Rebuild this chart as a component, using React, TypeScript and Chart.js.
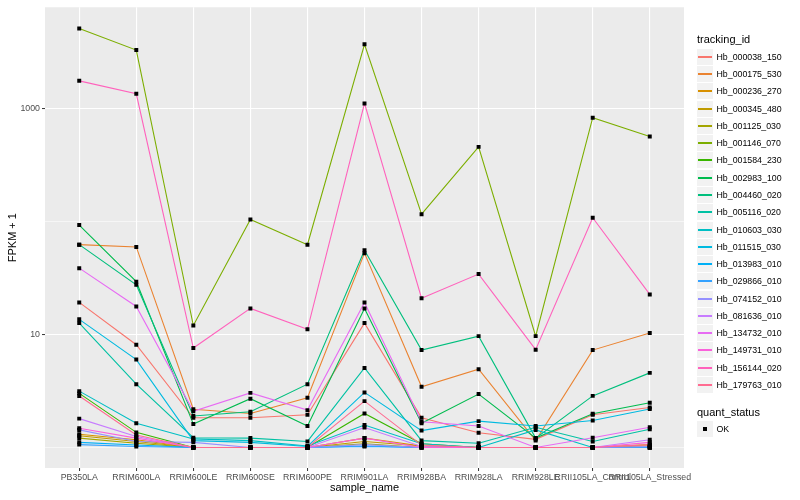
import React, { useEffect, useRef } from "react";
import { Chart, registerables } from "chart.js";

Chart.register(...registerables);

const categories = [
  "PB350LA", "RRIM600LA", "RRIM600LE", "RRIM600SE", "RRIM600PE", "RRIM901LA",
  "RRIM928BA", "RRIM928LA", "RRIM928LE", "RRII105LA_Control", "RRII105LA_Stressed",
];

const seriesNames = [
  "Hb_000038_150", "Hb_000175_530", "Hb_000236_270", "Hb_000345_480", "Hb_001125_030",
  "Hb_001146_070", "Hb_001584_230", "Hb_002983_100", "Hb_004460_020", "Hb_005116_020",
  "Hb_010603_030", "Hb_011515_030", "Hb_013983_010", "Hb_029866_010", "Hb_074152_010",
  "Hb_081636_010", "Hb_134732_010", "Hb_149731_010", "Hb_156144_020", "Hb_179763_010",
];

const seriesColors = [
  "#F8766D", "#EA8331", "#D89000", "#C09B00", "#A3A500", "#7CAE00", "#39B600", "#00BB4E",
  "#00BF7D", "#00C1A3", "#00BFC4", "#00BAE0", "#00B0F6", "#35A2FF", "#9590FF", "#C77CFF",
  "#E76BF3", "#FA62DB", "#FF62BC", "#FF6C91",
];

// FPKM + 1 per sample, in category order
const hb000038 = [19.2, 8.11, 1.83, 1.83, 1.95, 12.6, 1.83, 1.35, 1.18, 1.95, 2.26];
const hb000175 = [62.3, 59.5, 2.18, 2.0, 2.75, 52.4, 3.44, 4.92, 1.15, 7.27, 10.3];
const hb000236 = [1.31, 1.17, 1, 1, 1, 1.21, 1.03, 1, 1, 1, 1.03];
const hb000345 = [1.27, 1.13, 1, 1, 1, 1.13, 1.03, 1, 1, 1, 1.06];
const hb001125 = [1.21, 1.09, 1, 1, 1, 1.08, 1, 1, 1, 1, 1];
const hb001146 = [5094, 3284, 12.0, 104.2, 62.3, 3690, 116, 457, 9.66, 828, 564];
const hb001584 = [3.01, 1.36, 1, 1, 1, 2.0, 1.08, 1, 1, 1, 1];
const hb002983 = [92.9, 29.3, 1.61, 2.7, 1.55, 17.0, 1.64, 2.97, 1.21, 1.99, 2.49];
const hb004460 = [62.3, 27.5, 1.9, 2.07, 3.63, 55.6, 7.27, 9.66, 1.21, 2.86, 4.57];
const hb005116 = [12.6, 3.63, 1.22, 1.21, 1.13, 5.05, 1.15, 1.09, 1.51, 1.13, 1.45];
const hb010603 = [3.15, 1.64, 1.19, 1.15, 1.03, 1.58, 1.08, 1, 1.43, 1, 1];
const hb011515 = [13.6, 5.99, 1.15, 1.11, 1.02, 3.07, 1.41, 1.71, 1.55, 1.73, 2.19];
const hb013983 = [1.11, 1.05, 1, 1, 1, 1.03, 1, 1, 1, 1, 1];
const hb029866 = [1.06, 1.02, 1, 1, 1, 1.02, 1, 1, 1, 1, 1];
const hb074152 = [1.43, 1.13, 1.11, 1, 1, 1.06, 1, 1, 1, 1, 1.02];
const hb081636 = [1.8, 1.25, 1, 1, 1, 1.5, 1.02, 1, 1, 1, 1.17];
const hb134732 = [38.6, 17.7, 2.09, 3.04, 2.14, 19.2, 1.69, 1.55, 1, 1.22, 1.51];
const hb149731 = [1.48, 1.21, 1, 1, 1, 1.21, 1, 1, 1, 1, 1.11];
const hb156144 = [1754, 1347, 7.58, 17.0, 11.1, 1107, 20.9, 34.2, 7.33, 107.7, 22.6];
const hb179763 = [2.85, 1.29, 1, 1, 1, 2.57, 1.05, 1, 1, 1, 1.06];

const seriesValues = [
  hb000038, hb000175, hb000236, hb000345, hb001125, hb001146, hb001584, hb002983,
  hb004460, hb005116, hb010603, hb011515, hb013983, hb029866, hb074152, hb081636,
  hb134732, hb149731, hb156144, hb179763,
];

const yTickValues = [1, 10, 100, 1000];
const yLabelledTicks = [10, 1000];
const quantStatus = ["OK"];

const FONT = "'Liberation Sans', Arial, Helvetica, sans-serif";

const panelBg = {
  id: "panelBg",
  beforeDraw(chart: any) {
    const { ctx, chartArea } = chart;
    ctx.save();
    ctx.fillStyle = "#FFFFFF";
    ctx.fillRect(0, 0, chart.width, chart.height);
    ctx.fillStyle = "#EBEBEB";
    ctx.fillRect(chartArea.left, chartArea.top, chartArea.right - chartArea.left, chartArea.bottom - chartArea.top);
    ctx.restore();
  },
};

export default function App() {
  const canvasRef = useRef<HTMLCanvasElement | null>(null);

  useEffect(() => {
    const canvas = canvasRef.current;
    if (!canvas) return;

    const lineSets = seriesValues.map((vals, si) => ({
      label: seriesNames[si],
      data: vals.map((v, ci) => ({ x: ci, y: v })),
      borderColor: seriesColors[si],
      backgroundColor: seriesColors[si],
      borderWidth: 1.1,
      pointRadius: 0,
      pointHoverRadius: 0,
      tension: 0,
      order: 1 + (seriesValues.length - si),
    }));

    const pointData: { x: number; y: number }[] = [];
    seriesValues.forEach((vals) => vals.forEach((v, ci) => pointData.push({ x: ci, y: v })));

    const pointSet = {
      label: quantStatus[0],
      data: pointData,
      showLine: false,
      pointStyle: "rect",
      pointRadius: 2.8,
      pointBorderWidth: 0,
      pointBackgroundColor: "#000000",
      borderColor: "#000000",
      backgroundColor: "#000000",
      order: 0,
    };

    const chart = new Chart(canvas, {
      type: "line",
      data: { datasets: [...lineSets, pointSet] as any },
      plugins: [panelBg],
      options: {
        animation: false,
        responsive: false,
        maintainAspectRatio: false,
        events: [],
        layout: { padding: { left: 0, top: 5, right: 116, bottom: 0 } },
        plugins: { legend: { display: false }, tooltip: { enabled: false } },
        scales: {
          x: {
            type: "linear",
            min: -0.6,
            max: categories.length - 1 + 0.6,
            bounds: "data",
            afterFit: (scale: any) => {
              scale.height = 32;
            },
            afterBuildTicks: (scale: any) => {
              scale.ticks = categories.map((_, i) => ({ value: i }));
            },
            ticks: {
              autoSkip: false,
              maxRotation: 0,
              minRotation: 0,
              padding: 1,
              color: "#4D4D4D",
              font: { family: FONT, size: 8.8 },
              callback: (v: any) => categories[Number(v)] ?? "",
            },
            grid: {
              color: "#FFFFFF",
              lineWidth: 1.1,
              drawTicks: true,
              tickLength: 3,
              tickColor: "#333333",
              tickWidth: 1,
            },
            border: { display: false },
            title: {
              display: true,
              text: "sample_name",
              color: "#000000",
              font: { family: FONT, size: 11 },
              padding: { top: 0, bottom: 5 },
            },
          },
          y: {
            type: "logarithmic",
            min: 0.658,
            max: 7852,
            bounds: "data",
            afterFit: (scale: any) => {
              scale.width = 45;
            },
            afterBuildTicks: (scale: any) => {
              scale.ticks = yTickValues.map((v) => ({ value: v }));
            },
            ticks: {
              autoSkip: false,
              padding: 2,
              color: "#4D4D4D",
              font: { family: FONT, size: 8.8 },
              callback: (v: any) => (yLabelledTicks.includes(Number(v)) ? String(v) : ""),
            },
            grid: {
              color: "#FFFFFF",
              lineWidth: (ctx: any) => (yLabelledTicks.includes(ctx.tick?.value) ? 1.1 : 0.55),
              drawTicks: true,
              tickLength: 3,
              tickColor: (ctx: any) => (yLabelledTicks.includes(ctx.tick?.value) ? "#333333" : "rgba(0,0,0,0)"),
              tickWidth: 1,
            },
            border: { display: false },
            title: {
              display: true,
              text: "FPKM + 1",
              color: "#000000",
              font: { family: FONT, size: 11 },
              padding: { top: 6, bottom: 0 },
            },
          },
        },
      } as any,
    });

    return () => chart.destroy();
  }, []);

  const keyTop0 = 48.7;
  const keyStep = 17.28;

  return (
    <div style={{ position: "fixed", left: 0, top: 0, width: 800, height: 500, background: "#FFFFFF", fontFamily: FONT }}>
      <canvas ref={canvasRef} width={800} height={500} style={{ display: "block", width: 800, height: 500 }} />
      <div style={{ position: "absolute", left: 697, top: 33, fontSize: 11, lineHeight: "13px", color: "#000" }}>tracking_id</div>
      {seriesNames.map((name, i) => {
        const top = Math.round(keyTop0 + i * keyStep);
        return (
          <React.Fragment key={name}>
            <div
              style={{
                position: "absolute",
                left: 697,
                top: top,
                width: 16,
                height: 16,
                background: "#F2F2F2",
              }}
            >
              <div
                style={{
                  position: "absolute",
                  left: 1,
                  top: 7,
                  width: 14,
                  height: 2,
                  background: seriesColors[i],
                }}
              />
            </div>
            <div
              style={{
                position: "absolute",
                left: 716.5,
                top: top + 3,
                fontSize: 8.8,
                lineHeight: "11px",
                color: "#000",
                whiteSpace: "nowrap",
              }}
            >
              {name}
            </div>
          </React.Fragment>
        );
      })}
      <div style={{ position: "absolute", left: 697, top: 405.5, fontSize: 11, lineHeight: "13px", color: "#000" }}>quant_status</div>
      <div style={{ position: "absolute", left: 697, top: 421, width: 16, height: 16, background: "#F2F2F2" }}>
        <div style={{ position: "absolute", left: 6, top: 6, width: 4, height: 4, background: "#000" }} />
      </div>
      <div style={{ position: "absolute", left: 716.5, top: 424, fontSize: 8.8, lineHeight: "11px", color: "#000" }}>
        {quantStatus[0]}
      </div>
    </div>
  );
}
